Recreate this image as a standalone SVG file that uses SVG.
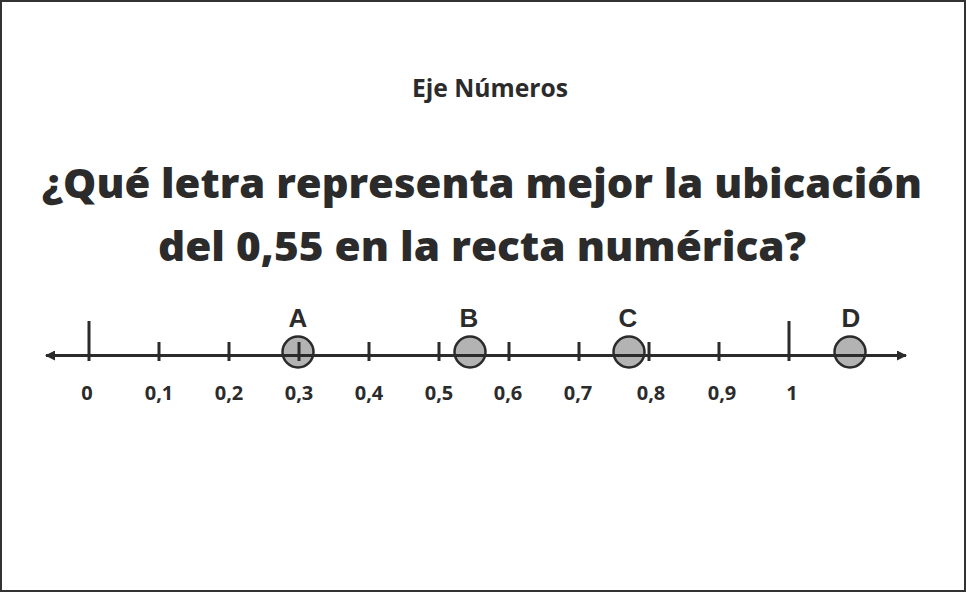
<svg xmlns="http://www.w3.org/2000/svg" width="966" height="592" viewBox="0 0 966 592">
<defs>
<style>
.t{font-family:"Open Sans",Lato,"Liberation Sans",sans-serif;font-weight:800;fill:#2b2b2b;text-anchor:middle}
.n{font-size:20px;font-weight:700}
.l{font-family:"Liberation Sans",Arial,sans-serif;font-weight:bold;font-size:26px;fill:#2b2b2b;text-anchor:middle}
.pt{fill:#b3b3b3;stroke:#2b2b2b;stroke-width:2.5}
.tk{stroke:#2b2b2b;stroke-width:3}
</style>
<marker id="ah" viewBox="0 0 10 10" refX="9" refY="5" markerWidth="10" markerHeight="10" markerUnits="userSpaceOnUse" orient="auto-start-reverse">
<path d="M0,0 L10,5 L0,10 Z" fill="#2b2b2b"/>
</marker>
</defs>
<rect x="1" y="1" width="964" height="590" fill="#fff" stroke="#333" stroke-width="2"/>
<g id="title"><text class="t" x="490" y="97" font-size="25" textLength="156" lengthAdjust="spacingAndGlyphs" style="font-weight:700">Eje Números</text></g>
<g id="question">
<text class="t" x="482" y="198" font-size="41" textLength="880" lengthAdjust="spacingAndGlyphs">¿Qué letra representa mejor la ubicación</text>
<text class="t" x="482" y="261" font-size="41" textLength="648" lengthAdjust="spacingAndGlyphs">del 0,55 en la recta numérica?</text>
</g>
<g id="points">
<g id="A"><circle class="pt" cx="298" cy="352" r="15.5"/><text class="l" x="298" y="327">A</text></g>
<g id="B"><circle class="pt" cx="470" cy="352" r="15.5"/><text class="l" x="469" y="327">B</text></g>
<g id="C"><circle class="pt" cx="629" cy="352" r="15.5"/><text class="l" x="628" y="327">C</text></g>
<g id="D"><circle class="pt" cx="850" cy="352" r="15.5"/><text class="l" x="851" y="327">D</text></g>
</g>
<g id="axis">
<line x1="46" y1="355.5" x2="906" y2="355.5" stroke="#2b2b2b" stroke-width="3" marker-start="url(#ah)" marker-end="url(#ah)"/>
<line class="tk" x1="89" y1="321" x2="89" y2="361"/>
<line class="tk" x1="159" y1="342" x2="159" y2="361"/>
<line class="tk" x1="229" y1="342" x2="229" y2="361"/>
<line class="tk" x1="299" y1="342" x2="299" y2="361"/>
<line class="tk" x1="369" y1="342" x2="369" y2="361"/>
<line class="tk" x1="439" y1="342" x2="439" y2="361"/>
<line class="tk" x1="509" y1="342" x2="509" y2="361"/>
<line class="tk" x1="579" y1="342" x2="579" y2="361"/>
<line class="tk" x1="649" y1="342" x2="649" y2="361"/>
<line class="tk" x1="719" y1="342" x2="719" y2="361"/>
<line class="tk" x1="789" y1="321" x2="789" y2="361"/>
</g>
<g id="labels">
<text class="t n" x="87" y="400">0</text>
<text class="t n" x="159" y="400">0,1</text>
<text class="t n" x="229" y="400">0,2</text>
<text class="t n" x="299" y="400">0,3</text>
<text class="t n" x="369" y="400">0,4</text>
<text class="t n" x="439" y="400">0,5</text>
<text class="t n" x="508" y="400">0,6</text>
<text class="t n" x="578" y="400">0,7</text>
<text class="t n" x="651" y="400">0,8</text>
<text class="t n" x="722" y="400">0,9</text>
<text class="t n" x="792" y="400">1</text>
</g>
</svg>
